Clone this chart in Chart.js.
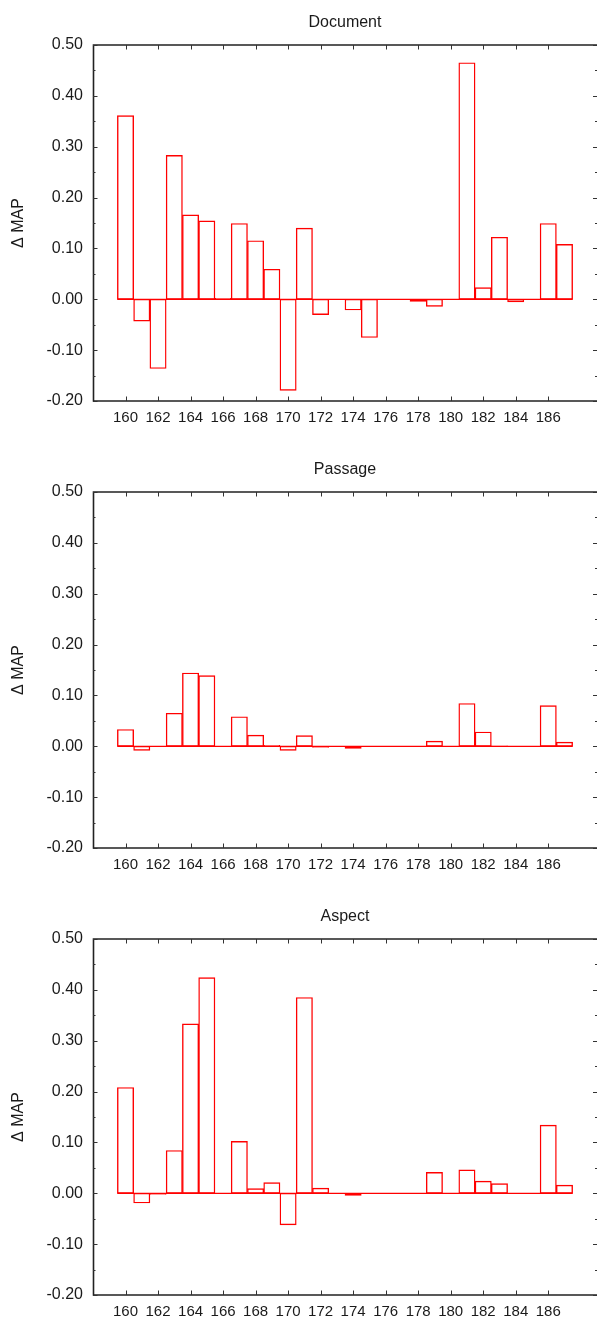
<!DOCTYPE html>
<html>
<head>
<meta charset="utf-8">
<script src="https://cdn.jsdelivr.net/npm/chart.js@4/dist/chart.umd.min.js"></script>
<style>
html,body{margin:0;padding:0;background:#fff;overflow:hidden;width:597px;height:1319px}
canvas{display:block}
</style>
</head>
<body>
<canvas id="c0" width="597" height="447"></canvas>
<canvas id="c1" width="597" height="447"></canvas>
<canvas id="c2" width="597" height="425"></canvas>
<script>
const categories = [160,161,162,163,164,165,166,167,168,169,170,171,172,173,174,175,176,177,178,179,180,181,182,183,184,185,186,187];
const documentValues = [0.361,-0.043,-0.136,0.283,0.166,0.154,0.002,0.149,0.115,0.059,-0.179,0.140,-0.030,0,-0.021,-0.075,0,0,-0.004,-0.014,0,0.465,0.023,0.122,-0.005,0,0.149,0.108];
const passageValues = [0.033,-0.008,0,0.065,0.144,0.139,0,0.058,0.022,0.002,-0.008,0.021,-0.002,0,-0.004,0,0,0,0,0.010,0,0.084,0.028,0.001,0,0,0.080,0.008];
const aspectValues = [0.208,-0.019,-0.002,0.084,0.333,0.424,0,0.102,0.009,0.021,-0.062,0.385,0.010,0,-0.004,0,0,0,0,0.041,0,0.046,0.024,0.019,0,0,0.134,0.016];
const panelTitles = ['Document','Passage','Aspect'];
const xTickValues = [160,162,164,166,168,170,172,174,176,178,180,182,184,186];
const yTickValues = [-0.2,-0.1,0,0.1,0.2,0.3,0.4,0.5];
const yAxisTitle = 'Δ MAP';

const FONT = 'Liberation Sans, Arial, Helvetica, sans-serif';
const TEXT = '#1a1a1a';

const framePlugin = {
  id: 'frame',
  afterDatasetsDraw(chart, args, opts) {
    const {ctx, chartArea: a, scales: {x, y}} = chart;
    ctx.save();
    // zero baseline across all bars
    const meta = chart.getDatasetMeta(0);
    const first = meta.data[0], last = meta.data[meta.data.length - 1];
    const y0 = y.getPixelForValue(0);
    ctx.strokeStyle = '#ff0000';
    ctx.lineWidth = 1.2;
    ctx.beginPath();
    ctx.moveTo(first.x - first.width / 2, y0);
    ctx.lineTo(last.x + last.width / 2, y0);
    ctx.stroke();
    // frame (top, left, bottom)
    ctx.strokeStyle = '#222';
    ctx.lineWidth = 1.6;
    ctx.beginPath();
    ctx.moveTo(a.right + 2, a.top);
    ctx.lineTo(a.left + 0.5, a.top);
    ctx.lineTo(a.left + 0.5, a.bottom);
    ctx.lineTo(a.right + 2, a.bottom);
    ctx.stroke();
    // ticks (inward, mirrored)
    ctx.lineWidth = 1;
    ctx.strokeStyle = '#333';
    ctx.beginPath();
    x.ticks.forEach(t => {
      const px = Math.round(x.getPixelForValue(t.value)) + 0.5;
      ctx.moveTo(px, a.bottom); ctx.lineTo(px, a.bottom - 4.5);
      ctx.moveTo(px, a.top); ctx.lineTo(px, a.top + 4.5);
    });
    const yt = y.ticks.map(t => t.value);
    yt.forEach((v, i) => {
      const py = Math.round(y.getPixelForValue(v)) + 0.5;
      ctx.moveTo(a.left, py); ctx.lineTo(a.left + 4.5, py);
      ctx.moveTo(a.right, py); ctx.lineTo(a.right - 4, py);
      if (i < yt.length - 1) {
        const pm = Math.round(y.getPixelForValue((v + yt[i + 1]) / 2)) + 0.5;
        ctx.moveTo(a.left, pm); ctx.lineTo(a.left + 2.5, pm);
        ctx.moveTo(a.right, pm); ctx.lineTo(a.right - 2, pm);
      }
    });
    ctx.stroke();
    // panel title
    ctx.fillStyle = TEXT;
    ctx.font = '16px ' + FONT;
    ctx.textAlign = 'center';
    ctx.textBaseline = 'alphabetic';
    ctx.fillText(opts.title, (a.left + a.right) / 2, a.top - 18);
    ctx.restore();
  }
};

function makeChart(id, title, values, isLast) {
  return new Chart(document.getElementById(id), {
    type: 'bar',
    data: {
      datasets: [{
        data: categories.map((c, i) => ({x: c, y: values[i]})),
        borderColor: '#ff0000',
        backgroundColor: 'rgba(0,0,0,0)',
        borderWidth: 0.7,
        inflateAmount: 0.35,
        borderSkipped: false,
        barPercentage: 1,
        categoryPercentage: 1
      }]
    },
    options: {
      responsive: false,
      animation: false,
      devicePixelRatio: 1,
      layout: {padding: {top: 45, left: 0, right: 0, bottom: 0}},
      plugins: {legend: {display: false}, tooltip: {enabled: false}, frame: {title: title}},
      scales: {
        x: {
          type: 'linear', min: 158, max: 189, offset: false,
          grid: {display: false, drawTicks: false, offset: false},
          border: {display: false},
          afterBuildTicks: s => { s.ticks = xTickValues.map(v => ({value: v})); },
          afterFit: s => { s.height = isLast ? 24 : 46; },
          ticks: {autoSkip: false, maxRotation: 0, minRotation: 0, padding: 8, color: TEXT,
                  font: {family: FONT, size: 15}, callback: v => String(v)}
        },
        y: {
          type: 'linear', min: -0.2, max: 0.5,
          grid: {display: false, drawTicks: false},
          border: {display: false},
          afterBuildTicks: s => { s.ticks = yTickValues.map(v => ({value: v})); },
          afterFit: s => { s.width = 93; },
          ticks: {padding: 10, color: TEXT, font: {family: FONT, size: 16}, callback: v => Number(v).toFixed(2)},
          title: {display: true, text: yAxisTitle, color: TEXT, font: {family: FONT, size: 16}, padding: {top: 9, bottom: 0}}
        }
      }
    },
    plugins: [framePlugin]
  });
}

makeChart('c0', panelTitles[0], documentValues, false);
makeChart('c1', panelTitles[1], passageValues, false);
makeChart('c2', panelTitles[2], aspectValues, true);
</script>
</body>
</html>
